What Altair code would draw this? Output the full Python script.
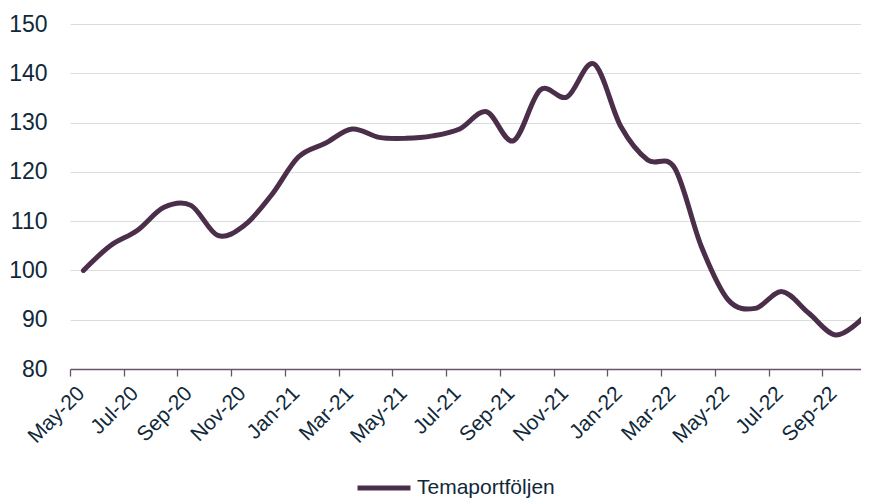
import altair as alt
import pandas as pd

months = ["May-20", "Jun-20", "Jul-20", "Aug-20", "Sep-20", "Oct-20", "Nov-20", "Dec-20",
          "Jan-21", "Feb-21", "Mar-21", "Apr-21", "May-21", "Jun-21", "Jul-21", "Aug-21",
          "Sep-21", "Oct-21", "Nov-21", "Dec-21", "Jan-22", "Feb-22", "Mar-22", "Apr-22",
          "May-22", "Jun-22", "Jul-22", "Aug-22", "Sep-22", "Oct-22"]
values = [100.0, 105.0, 108.1, 112.8, 113.2, 107.1, 109.2, 115.3,
          123.0, 125.8, 128.7, 127.0, 126.8, 127.3, 128.7, 132.2,
          126.3, 136.6, 135.2, 141.9, 129.2, 122.4, 120.8, 104.8,
          94.0, 92.3, 95.7, 91.3, 86.9, 90.3]
series_name = "Temaportföljen"
y_ticks = [80, 90, 100, 110, 120, 130, 140, 150]

df = pd.DataFrame({
    "idx": list(range(len(months))),
    "month": months,
    "value": values,
    "series": [series_name] * len(months),
})

label_months = months[::2]
label_arr = "[" + ",".join("'" + m + "'" for m in label_months) + "]"
tick_vals = [i - 0.5 for i in range(0, len(months) - 1, 2)]

LINE = "#4b2e4a"
TEXT = "#10293a"
FONT = "Liberation Sans"

W = 791
H = 345
month_px = 26.87
x_max = -0.5 + W / month_px

chart = alt.Chart(df).mark_line(
    interpolate="cardinal", strokeWidth=5, strokeCap="round", clip=False
).encode(
    x=alt.X("idx:Q",
            scale=alt.Scale(domain=[-0.5, x_max], nice=False, zero=False),
            axis=alt.Axis(values=tick_vals, title=None, grid=False,
                          labelExpr=label_arr + "[round((datum.value + 0.5) / 2)]",
                          labelAngle=-45, labelAlign="right", labelBaseline="middle",
                          labelOffset=11, labelPadding=14, labelFontSize=21,
                          labelFont=FONT, labelColor=TEXT,
                          tickColor="#6a5368", tickSize=7, tickWidth=1.3,
                          domainColor="#6a5368", domainWidth=1.3, labelOverlap=False)),
    y=alt.Y("value:Q",
            scale=alt.Scale(domain=[80, 150], nice=False, zero=False),
            axis=alt.Axis(values=y_ticks, title=None, ticks=False, domain=False,
                          labelFontSize=23, labelFont=FONT, labelColor=TEXT,
                          labelPadding=23, gridColor="#dcdcdc", gridWidth=1)),
    color=alt.Color("series:N", scale=alt.Scale(range=[LINE]),
                    legend=alt.Legend(title=None, orient="none", legendX=285, legendY=435,
                                      symbolType="stroke", symbolSize=2809,
                                      symbolStrokeWidth=5, labelFontSize=21,
                                      labelFont=FONT, labelColor=TEXT, labelOffset=4)),
).properties(
    width=W, height=H,
    padding={"left": 62, "top": 16, "right": 0, "bottom": 132},
    autosize=alt.AutoSizeParams(type="none"),
).configure_view(stroke=None)

chart.save("out.html", embed_options={"renderer": "svg", "actions": False})
